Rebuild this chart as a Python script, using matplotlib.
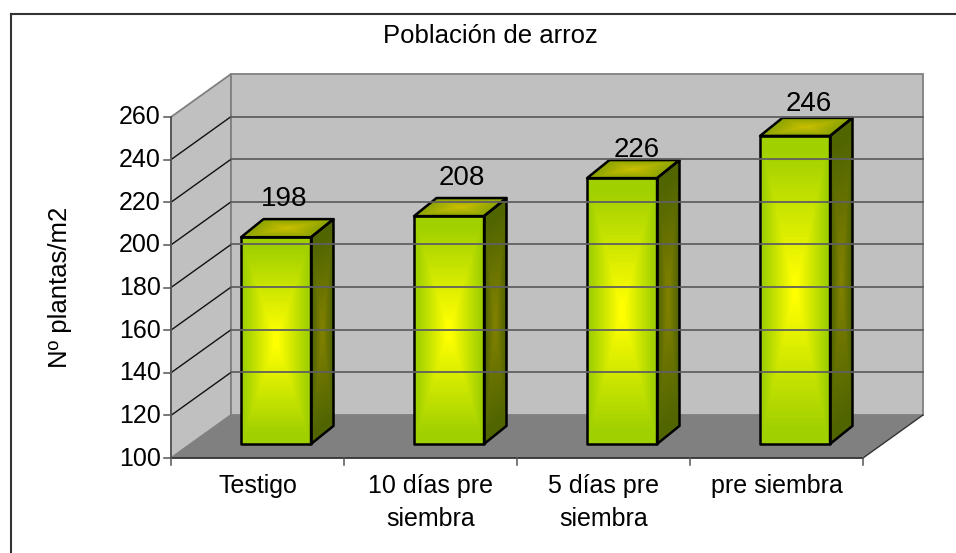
import numpy as np
import matplotlib
matplotlib.use('Agg')
import matplotlib.pyplot as plt
from matplotlib.patches import Polygon

categories = ['Testigo', '10 días pre\nsiembra', '5 días pre\nsiembra', 'pre siembra']
plantas = [198, 208, 226, 246]
yticks = [100, 120, 140, 160, 180, 200, 220, 240, 260]

W, H = 956, 553
plt.rcParams['font.family'] = ['Liberation Sans', 'DejaVu Sans']

fig = plt.figure(figsize=(W / 100, H / 100), dpi=100)
fig.patch.set_facecolor('white')

# front plane of the box is 171..863 px wide and 458..117 px high
ax = fig.add_axes([171 / W, 1 - 458 / H, 692 / W, 341 / H])
ax.set_xlim(0, 4)
ax.set_ylim(100, 260)
ax.axis('off')

# oblique depth, in data units for one full depth of the box
dx = 60 / 692 * 4
dy = 43 / 341 * 160
bar_w = 70 / 692 * 4
bar_shift = -1 / 173
bar_in = 0.326
bar_out = 0.70
squash = 0.99
# data labels do not sit quite evenly in the original, pixels
label_nudge = [(0, 7), (5, 7), (7, -3), (6, 1)]


def depth(x, y, d):
    return x + d * dx, y + d * dy


def poly(pts, **kw):
    ax.add_patch(Polygon(pts, closed=True, clip_on=False, **kw))


def shaded(p0, p1, p3, edge, mid):
    # rectangular gradient on the parallelogram p0, p1, p3
    n = 70
    u, v = np.meshgrid(np.linspace(0, 1, n + 1), np.linspace(0, 1, n + 1))
    X = p0[0] + u * (p1[0] - p0[0]) + v * (p3[0] - p0[0])
    Y = p0[1] + u * (p1[1] - p0[1]) + v * (p3[1] - p0[1])
    uc = (np.arange(n) + .5) / n
    uu, vv = np.meshgrid(uc, uc)
    t = np.maximum(abs(2 * uu - 1), abs(2 * vv - 1))[..., None]
    t = np.clip((t - .05) / .85, 0, 1)
    C = (np.array(mid) * (1 - t) + np.array(edge) * t) / 255.
    ax.pcolormesh(X, Y, C, shading='flat', antialiased=False, clip_on=False, linewidth=0)


def corner(x, y, d):
    # bar depth runs a little steeper than the box
    x2, y2 = depth(x, 100 + (y - 100) * squash, d)
    if d == bar_out:
        y2 += 2 / 341 * 160
    return x2, y2


# walls and floor
poly([depth(0, 100, 0), depth(0, 100, 1), depth(0, 260, 1), depth(0, 260, 0)], fc='#c0c0c0', ec='#808080', lw=1.3)
poly([depth(0, 100, 1), depth(4, 100, 1), depth(4, 260, 1), depth(0, 260, 1)], fc='#c0c0c0', ec='#808080', lw=1.3)
poly([depth(0, 100, 0), depth(4, 100, 0), depth(4, 100, 1), depth(0, 100, 1)], fc='#808080', ec='none')
ax.plot(*zip(depth(4, 100, 0), depth(4, 100, 1)), color='#333333', lw=1, clip_on=False)

# gridlines
for v in yticks[1:-1]:
    ax.plot(*zip(depth(0, v, 0), depth(0, v, 1)), color='#111111', lw=1, clip_on=False)
    ax.plot(*zip(depth(0, v, 1), depth(4, v, 1)), color='#606060', lw=1.3, clip_on=False)

# axes on the front plane
ax.plot([0, 0], [100, 260], color='#555555', lw=1.3, clip_on=False)
ax.plot([0, 4], [100, 100], color='#333333', lw=1.3, clip_on=False)
for v in yticks:
    ax.plot([-7 / 173, 0], [v, v], color='#555555', lw=1.1, clip_on=False)
    ax.annotate(str(v), (0, v), xytext=(-10, -0.5), textcoords='offset pixels', ha='right', va='center', fontsize=18, color='black')
for i in range(5):
    ax.plot([i, i], [100, 100 - 7 / 341 * 160], color='#555555', lw=1.1, clip_on=False)

# bars
for i, v in enumerate(plantas):
    x0 = i + .5 - bar_w / 2 + bar_shift
    x1 = i + .5 + bar_w / 2 + bar_shift
    # front
    shaded(corner(x0, 100, bar_in), corner(x1, 100, bar_in), corner(x0, v, bar_in), (160, 208, 0), (255, 255, 0))
    # side
    shaded(corner(x1, 100, bar_in), corner(x1, 100, bar_out), corner(x1, v, bar_in), (80, 100, 0), (128, 128, 0))
    # top
    shaded(corner(x0, v, bar_in), corner(x1, v, bar_in), corner(x0, v, bar_out), (144, 165, 0), (200, 190, 0))
    outline = dict(fc='none', ec='black', lw=1.8, joinstyle='round')
    poly([corner(x0, 100, bar_in), corner(x1, 100, bar_in), corner(x1, v, bar_in), corner(x0, v, bar_in)], **outline)
    poly([corner(x1, 100, bar_in), corner(x1, 100, bar_out), corner(x1, v, bar_out), corner(x1, v, bar_in)], **outline)
    poly([corner(x0, v, bar_in), corner(x1, v, bar_in), corner(x1, v, bar_out), corner(x0, v, bar_out)], **outline)
    lx, ly = corner(i + .5, v, bar_in)
    nx, ny = label_nudge[i]
    ax.annotate(str(v), (lx, ly), xytext=(nx + 7, ny + 18), textcoords='offset pixels', ha='center', va='bottom', fontsize=20, color='black')

# category labels
for i, c in enumerate(categories):
    ax.annotate(c, (i + .5, 100), xytext=(0, -16), textcoords='offset pixels', ha='center', va='top', fontsize=18, color='black', linespacing=1.5)

fig.text(490 / W, 1 - 36 / H, 'Población de arroz', ha='center', va='center', fontsize=18.5)
fig.text(60 / W, 1 - 287 / H, 'Nº plantas/m2', rotation=90, ha='center', va='center', fontsize=18.5)

# the chart frame only shows on the top and left, the rest is cropped away
fig.add_artist(plt.Line2D([10.5 / W, 1], [1 - 14 / H, 1 - 14 / H], color='#333333', lw=1.5, transform=fig.transFigure))
fig.add_artist(plt.Line2D([10.5 / W, 10.5 / W], [1 - 14 / H, 0], color='#333333', lw=1.5, transform=fig.transFigure))

fig.savefig('out.png', dpi=100)
